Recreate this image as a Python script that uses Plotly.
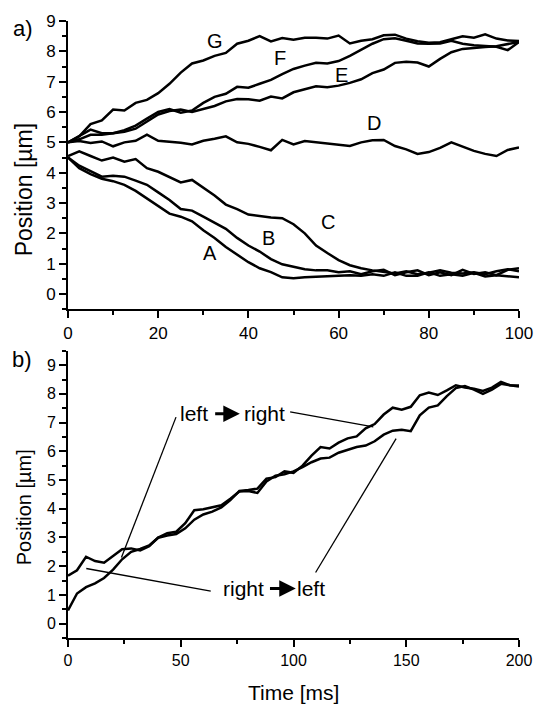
import plotly.graph_objects as go

# ---------------- panel a) data (time in ms, position in um) ----------------
time_a = [0, 2.5, 5, 7.5, 10, 12.5, 15, 17.5, 20, 22.5, 25, 27.5, 30, 32.5, 35, 37.5,
          40, 42.5, 45, 47.5, 50, 52.5, 55, 57.5, 60, 62.5, 65, 67.5, 70, 72.5, 75,
          77.5, 80, 82.5, 85, 87.5, 90, 92.5, 95, 97.5, 100]

pos_A = [4.5, 4.15, 3.95, 3.8, 3.72, 3.6, 3.4, 3.15, 2.9, 2.65, 2.55, 2.4, 2.1, 1.85, 1.55,
         1.3, 1.05, 0.85, 0.72, 0.55, 0.52, 0.55, 0.57, 0.57, 0.6, 0.62, 0.6, 0.65, 0.6,
         0.72, 0.6, 0.6, 0.72, 0.6, 0.65, 0.6, 0.7, 0.58, 0.62, 0.58, 0.55]
pos_B = [4.5, 4.23, 4.05, 3.87, 3.9, 3.87, 3.74, 3.6, 3.35, 3.1, 2.8, 2.75, 2.55, 2.35, 2.15,
         1.85, 1.6, 1.4, 1.15, 0.98, 0.9, 0.82, 0.78, 0.78, 0.72, 0.75, 0.65, 0.75, 0.8,
         0.62, 0.72, 0.78, 0.62, 0.72, 0.62, 0.8, 0.66, 0.72, 0.62, 0.8, 0.85]
pos_C = [4.55, 4.7, 4.55, 4.4, 4.5, 4.36, 4.45, 4.15, 4.03, 3.85, 3.68, 3.76, 3.5, 3.25, 2.95,
         2.8, 2.62, 2.56, 2.52, 2.5, 2.3, 2.0, 1.6, 1.35, 1.12, 0.95, 0.85, 0.78, 0.72,
         0.68, 0.75, 0.65, 0.7, 0.78, 0.7, 0.68, 0.72, 0.65, 0.75, 0.82, 0.75]
pos_D = [5.0, 5.04, 4.98, 5.03, 4.87, 5.0, 5.05, 5.25, 5.05, 5.02, 4.99, 4.93, 5.05, 5.12, 5.2,
         5.0, 4.95, 4.85, 4.74, 5.08, 4.93, 5.04, 5.0, 4.95, 4.92, 4.88, 5.0, 5.07, 5.08,
         4.88, 4.77, 4.62, 4.68, 4.82, 5.0, 4.85, 4.72, 4.62, 4.55, 4.75, 4.83]
pos_E = [5.0, 5.1, 5.25, 5.25, 5.3, 5.35, 5.45, 5.68, 5.92, 6.03, 6.08, 6.0, 6.1, 6.2, 6.35,
         6.43, 6.42, 6.37, 6.51, 6.45, 6.65, 6.75, 6.85, 6.82, 6.87, 6.96, 7.08, 7.28, 7.4,
         7.62, 7.66, 7.63, 7.5, 7.75, 7.97, 8.08, 8.12, 8.14, 8.17, 8.24, 8.31]
pos_F = [5.0, 5.2, 5.42, 5.3, 5.3, 5.4, 5.55, 5.78, 6.0, 6.1, 5.98, 6.05, 6.3, 6.5, 6.6,
         6.83, 6.8, 6.93, 7.06, 7.25, 7.42, 7.53, 7.62, 7.6, 7.68, 7.85, 8.05, 8.25, 8.4,
         8.43, 8.35, 8.26, 8.25, 8.26, 8.35, 8.25, 8.2, 8.18, 8.15, 8.04, 8.31]
pos_G = [5.0, 5.2, 5.6, 5.72, 6.08, 6.05, 6.3, 6.4, 6.62, 6.93, 7.3, 7.6, 7.7, 7.85, 7.95,
         8.25, 8.35, 8.5, 8.33, 8.44, 8.38, 8.45, 8.45, 8.42, 8.52, 8.26, 8.35, 8.4, 8.53,
         8.55, 8.42, 8.33, 8.28, 8.3, 8.4, 8.5, 8.45, 8.56, 8.42, 8.36, 8.34]

curve_names_a = ["A", "B", "C", "D", "E", "F", "G"]
curve_values_a = [pos_A, pos_B, pos_C, pos_D, pos_E, pos_F, pos_G]
# label anchor points (time, position) for the curve letters
label_time_a = [31.5, 44.5, 57.7, 67.9, 60.7, 47.1, 32.5]
label_pos_a = [1.34, 1.86, 2.39, 5.65, 7.22, 7.78, 8.33]

# ---------------- panel b) data ----------------
time_b = [0, 4, 8, 12, 16, 20, 24, 28, 32, 36, 40, 44, 48, 52, 56, 60, 64, 68, 72, 76,
          80, 84, 88, 92, 96, 100, 104, 108, 112, 116, 120, 124, 128, 132, 136, 140,
          144, 148, 152, 156, 160, 164, 168, 172, 176, 180, 184, 188, 192, 196, 200]
pos_left_right = [0.46, 1.05, 1.27, 1.4, 1.59, 1.88, 2.24, 2.5, 2.6, 2.72, 2.99, 3.07, 3.12,
                  3.32, 3.62, 3.8, 3.9, 4.05, 4.3, 4.62, 4.65, 4.7, 5.05, 5.1, 5.3, 5.25,
                  5.5, 5.85, 6.15, 6.1, 6.3, 6.45, 6.52, 6.8, 6.95, 7.28, 7.52, 7.45, 7.55,
                  7.95, 8.05, 7.96, 8.12, 8.3, 8.22, 8.18, 8.1, 8.22, 8.42, 8.3, 8.26]
pos_right_left = [1.67, 1.86, 2.33, 2.18, 2.12, 2.35, 2.59, 2.62, 2.55, 2.7, 3.0, 3.15, 3.2,
                  3.5, 3.95, 3.98, 4.05, 4.12, 4.35, 4.6, 4.62, 4.55, 4.95, 5.15, 5.2, 5.3,
                  5.45, 5.62, 5.75, 5.78, 5.95, 6.05, 6.15, 6.2, 6.35, 6.58, 6.72, 6.75,
                  6.7, 7.25, 7.52, 7.6, 7.92, 8.2, 8.27, 8.15, 8.0, 8.15, 8.35, 8.3, 8.29]

FONT = "Arial, Liberation Sans, Helvetica, sans-serif"
LW = 2.5

fig = go.Figure()
for vals in curve_values_a:
    fig.add_trace(go.Scatter(x=time_a, y=vals, mode="lines", xaxis="x", yaxis="y",
                             line=dict(color="black", width=LW),
                             showlegend=False, hoverinfo="skip"))
for vals in [pos_left_right, pos_right_left]:
    fig.add_trace(go.Scatter(x=time_b, y=vals, mode="lines", xaxis="x2", yaxis="y2",
                             line=dict(color="black", width=LW),
                             showlegend=False, hoverinfo="skip"))

axis_common = dict(showline=True, linewidth=2, linecolor="black", mirror=False,
                   showgrid=False, zeroline=False, ticks="outside", ticklen=7,
                   tickwidth=1.5, tickcolor="black")

top_px, bot_px = 15, 638
span = bot_px - top_px


def py(p):
    return (bot_px - p) / span


def px(p):
    return (p - 68) / 461


fig.update_layout(
    width=545, height=704,
    margin=dict(l=68, r=16, t=15, b=66),
    paper_bgcolor="white", plot_bgcolor="white",
    font=dict(family=FONT, color="black"),
    xaxis=dict(domain=[0, 1], anchor="y", range=[0, 100], tick0=0, dtick=20,
               tickfont=dict(size=17),
               minor=dict(dtick=10, ticklen=4, ticks="outside", tickwidth=1.5, tickcolor="black"),
               **axis_common),
    yaxis=dict(domain=[py(306), 1], anchor="x", range=[-0.5, 9], tick0=0, dtick=1,
               tickfont=dict(size=17),
               minor=dict(dtick=0.5, ticklen=4, ticks="outside", tickwidth=1.5, tickcolor="black"),
               **axis_common),
    xaxis2=dict(domain=[0, 1], anchor="y2", range=[0, 200], tick0=0, dtick=50,
                tickfont=dict(size=16),
                minor=dict(dtick=25, ticklen=4, ticks="outside", tickwidth=1.5, tickcolor="black"),
                **axis_common),
    yaxis2=dict(domain=[0, py(348)], anchor="x2", range=[-0.5, 9.5], tick0=0, dtick=1,
                tickfont=dict(size=16),
                minor=dict(dtick=0.5, ticklen=4, ticks="outside", tickwidth=1.5, tickcolor="black"),
                **axis_common),
)

ann = []
# curve letters
for name, tx, ty in zip(curve_names_a, label_time_a, label_pos_a):
    ann.append(dict(x=tx, y=ty, xref="x", yref="y", text=name, showarrow=False,
                    font=dict(size=20, family=FONT), xanchor="center", yanchor="middle"))
# panel letters
ann.append(dict(x=px(22), y=py(23), xref="paper", yref="paper", text="a)", showarrow=False,
                font=dict(size=22, family=FONT), xanchor="center", yanchor="middle"))
ann.append(dict(x=px(21), y=py(357), xref="paper", yref="paper", text="b)", showarrow=False,
                font=dict(size=22, family=FONT), xanchor="center", yanchor="middle"))
# axis titles
ann.append(dict(x=px(23), y=py(185), xref="paper", yref="paper", text="Position [µm]",
                textangle=-90, showarrow=False, font=dict(size=23, family=FONT),
                xanchor="center", yanchor="middle"))
ann.append(dict(x=px(23), y=py(506), xref="paper", yref="paper", text="Position [µm]",
                textangle=-90, showarrow=False, font=dict(size=20, family=FONT),
                xanchor="center", yanchor="middle"))
ann.append(dict(x=px(299), y=py(693), xref="paper", yref="paper", text="Time [ms]",
                showarrow=False, font=dict(size=21, family=FONT),
                xanchor="center", yanchor="middle"))

# panel b annotations
ann.append(dict(x=55.8, y=7.31, xref="x2", yref="y2", text="left", showarrow=False,
                font=dict(size=21, family=FONT), xanchor="center", yanchor="middle"))
ann.append(dict(x=87.0, y=7.31, xref="x2", yref="y2", text="right", showarrow=False,
                font=dict(size=21, family=FONT), xanchor="center", yanchor="middle"))
ann.append(dict(x=77.9, y=1.22, xref="x2", yref="y2", text="right", showarrow=False,
                font=dict(size=21, family=FONT), xanchor="center", yanchor="middle"))
ann.append(dict(x=107.9, y=1.22, xref="x2", yref="y2", text="left", showarrow=False,
                font=dict(size=21, family=FONT), xanchor="center", yanchor="middle"))
# bold arrows between words
for (x0, x1, yv) in [(64.6, 76.2, 7.31), (88.9, 101.0, 1.22)]:
    ann.append(dict(x=x1, y=yv, ax=x0, ay=yv, xref="x2", yref="y2", axref="x2", ayref="y2",
                    text="", showarrow=True, arrowhead=2, arrowsize=1.1, arrowwidth=3,
                    arrowcolor="black", standoff=0, startstandoff=0))
fig.update_layout(annotations=ann)

# pointer lines
pointers = [((47.9, 7.19), (23.7, 2.3)),
            ((98.5, 7.37), (135.4, 6.85)),
            ((63.3, 1.13), (8.1, 1.92)),
            ((109.8, 1.78), (145.5, 6.44))]
for (a, b) in pointers:
    fig.add_shape(type="line", xref="x2", yref="y2", x0=a[0], y0=a[1], x1=b[0], y1=b[1],
                  line=dict(color="black", width=1.3))

fig.write_html("out.html",
               config={"displayModeBar": False},
               post_script="document.body.style.margin='0';"
                           "document.body.style.padding='0';"
                           "document.documentElement.style.overflow='hidden';")
